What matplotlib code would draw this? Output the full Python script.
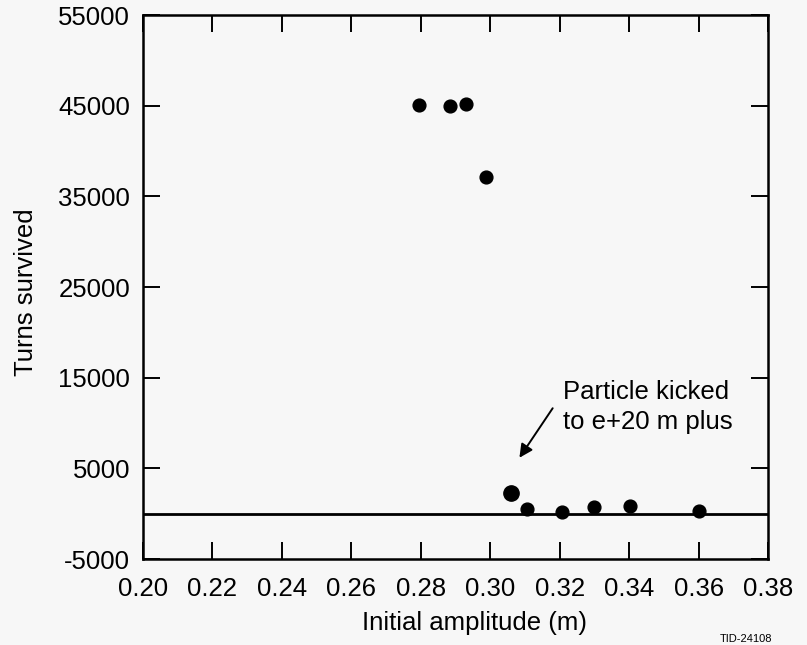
import matplotlib
matplotlib.use("Agg")
import matplotlib.pyplot as plt

plt.rcParams['font.family'] = ['Liberation Sans', 'DejaVu Sans']

# Data
amplitude = [0.2796, 0.2883, 0.2931, 0.2989, 0.3105, 0.3207, 0.3300, 0.3403, 0.3600]
turns = [45070, 44990, 45180, 37130, 480, 220, 770, 850, 330]

# The kicked particle (drawn a bit larger)
kicked_amp = [0.3060]
kicked_turns = [2310]

x_ticks = [0.20, 0.22, 0.24, 0.26, 0.28, 0.30, 0.32, 0.34, 0.36, 0.38]
y_ticks = [-5000, 5000, 15000, 25000, 35000, 45000, 55000]

fig = plt.figure(figsize=(8.07, 6.45), dpi=100, facecolor='#f7f7f7')
ax = fig.add_axes([0.1768, 0.1333, 0.7752, 0.8434])
ax.set_facecolor('#f7f7f7')

ax.axhline(0, color='black', lw=2.0, zorder=1)
ax.plot(amplitude, turns, 'o', color='black', markersize=9.2, zorder=3)
ax.plot(kicked_amp, kicked_turns, 'o', color='black', markersize=11, zorder=3)

ax.set_xlim(0.20, 0.38)
ax.set_ylim(-5000, 55000)
ax.set_xticks(x_ticks)
ax.set_xticklabels([f"{v:.2f}" for v in x_ticks])
ax.set_yticks(y_ticks)
ax.set_yticklabels([str(v) for v in y_ticks])

ax.tick_params(direction='in', length=12, width=1.4, labelsize=18.5,
               top=True, right=True)
ax.tick_params(axis='x', pad=13)
ax.tick_params(axis='y', pad=9)
for s in ax.spines.values():
    s.set_linewidth(1.8)

ax.set_xlabel("Initial amplitude (m)", fontsize=18.5)
ax.xaxis.label.set_va('center')
ax.xaxis.set_label_coords(0.531, -0.1176)
ax.set_ylabel("Turns survived", fontsize=18.5)
ax.yaxis.label.set_va('center')
ax.yaxis.set_label_coords(-0.187, 0.49)

ax.annotate("Particle kicked\nto e+20 m plus", xy=(0.3084, 6170), xytext=(0.3209, 11750),
            fontsize=18.5, ha='left', va='center', linespacing=1.3,
            arrowprops=dict(arrowstyle='-|>', color='black', lw=1.4,
                            mutation_scale=20, shrinkA=0, shrinkB=0,
                            relpos=(-0.06, 0.48)))

fig.text(0.892, 0.002, "TID-24108", fontsize=8, ha='left', va='bottom')

fig.savefig("out.png", dpi=100, facecolor=fig.get_facecolor())
